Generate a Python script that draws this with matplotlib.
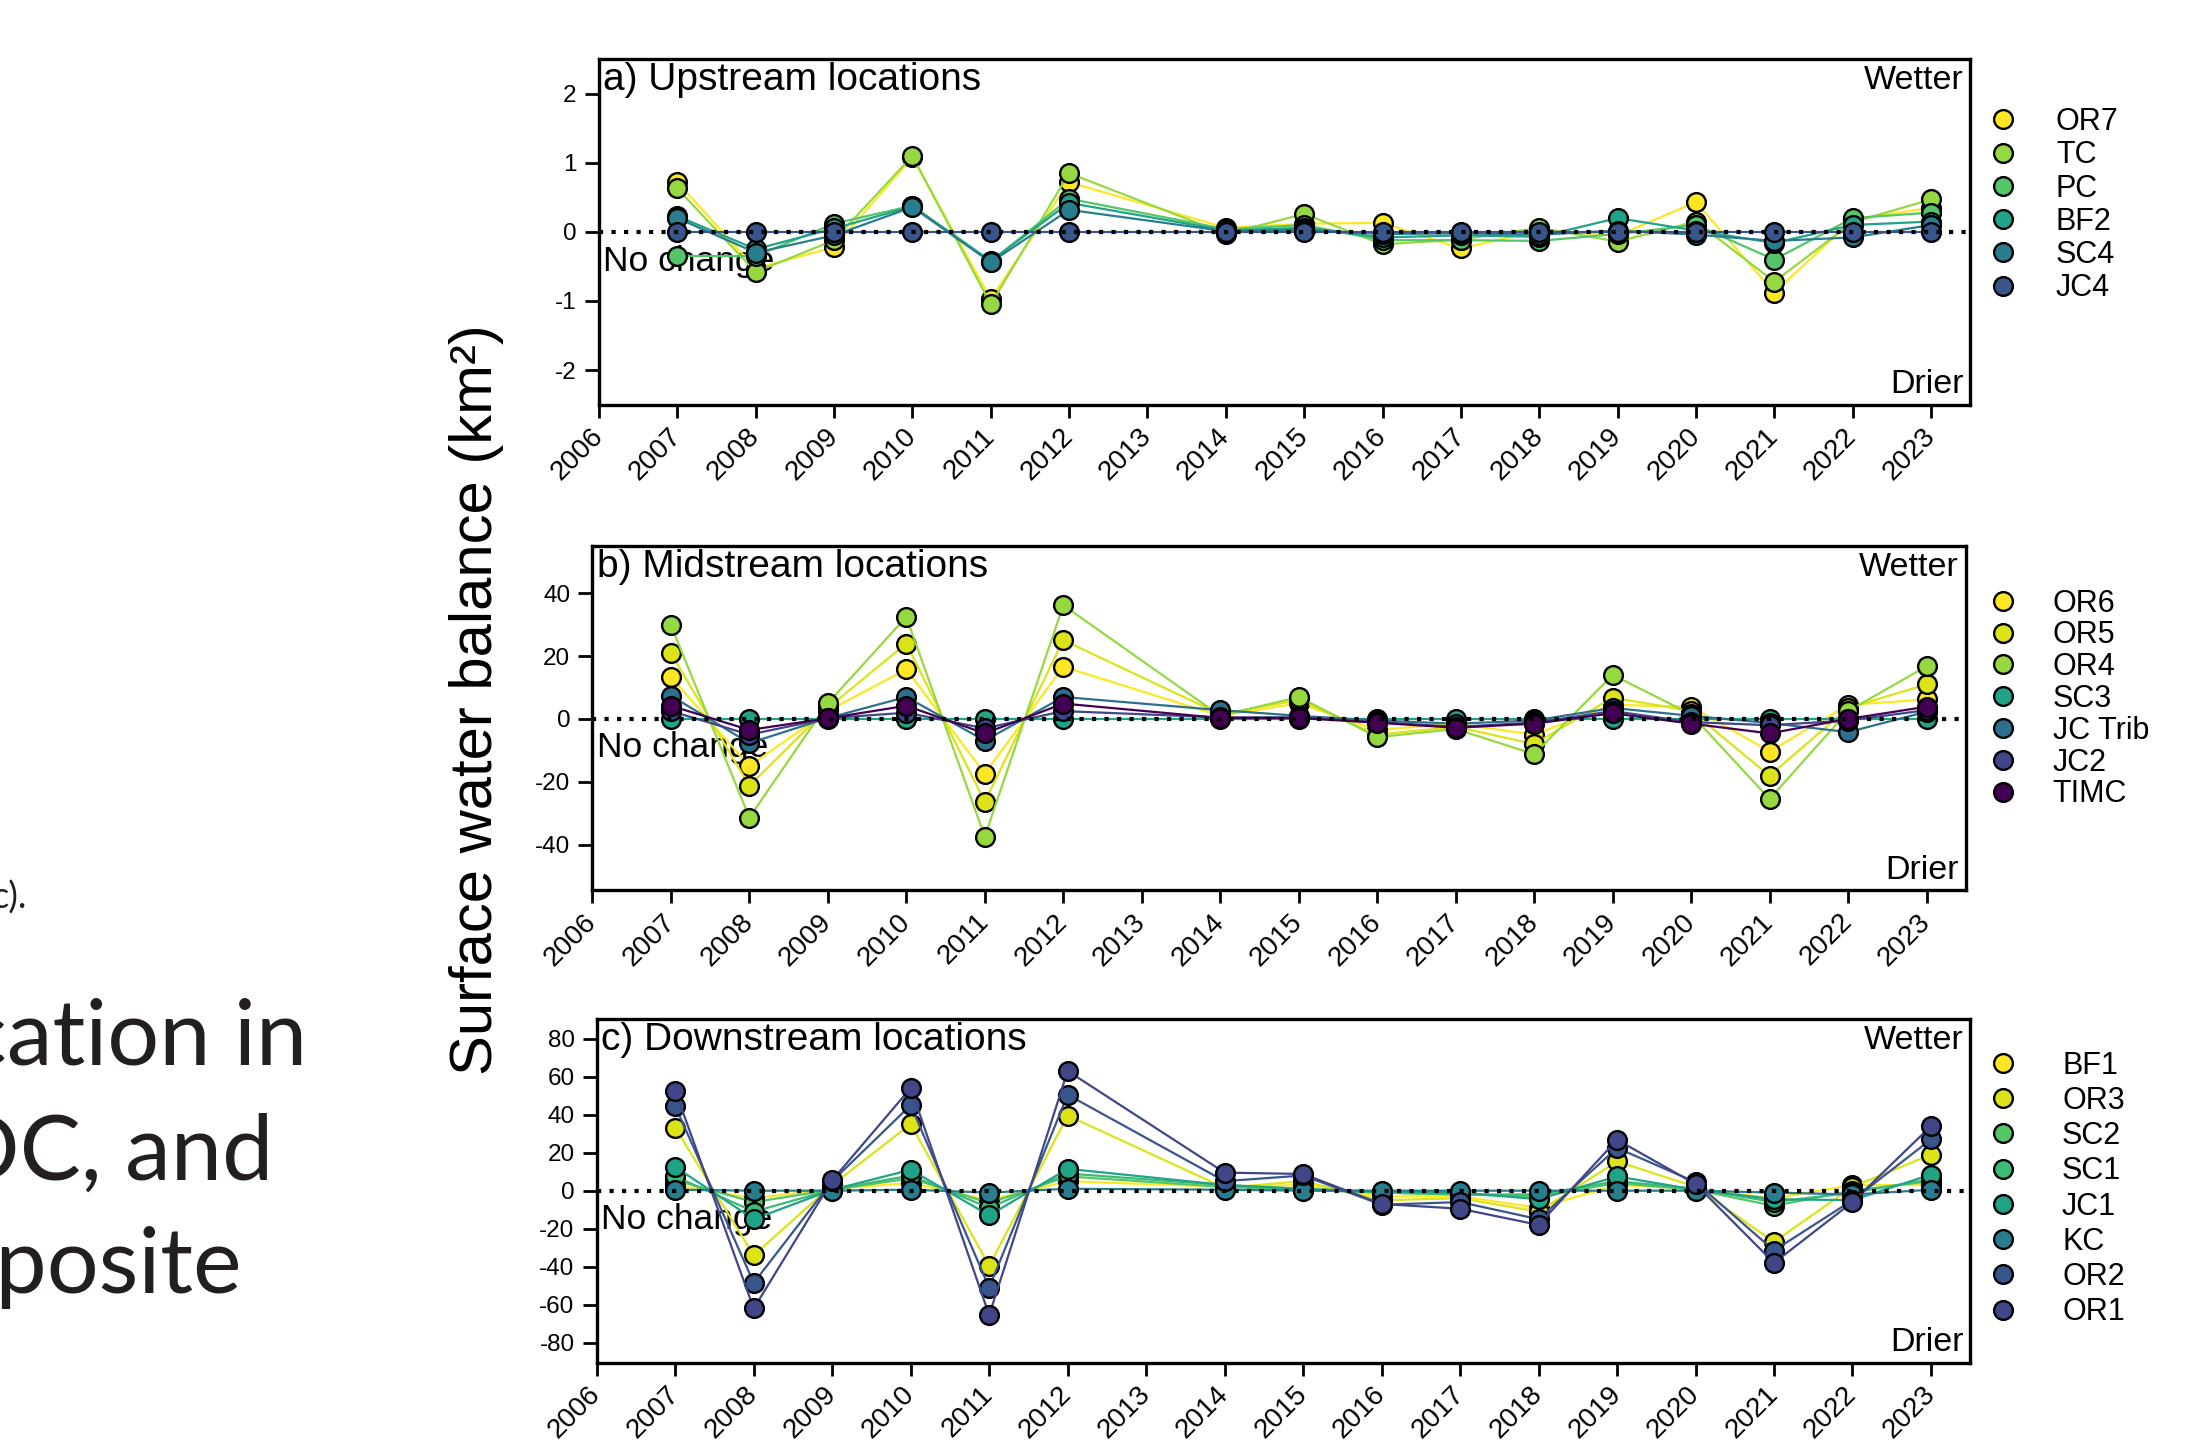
import matplotlib
matplotlib.use("Agg")
import matplotlib.pyplot as plt
from matplotlib.lines import Line2D

plt.rcParams["font.family"] = ["Liberation Sans", "DejaVu Sans"]
plt.rcParams["axes.unicode_minus"] = False

# Water years with observations (no 2013 survey)
years = [2007, 2008, 2009, 2010, 2011, 2012, 2014, 2015, 2016,
         2017, 2018, 2019, 2020, 2021, 2022, 2023]

# a) Upstream locations
up_sites = ["OR7", "TC", "PC", "BF2", "SC4", "JC4"]
up_colors = ["#FDE725", "#95D840", "#55C667", "#20A387", "#287D8E", "#39568C"]
or7 = [0.72, -0.53, -0.22, 1.08, -0.97, 0.72, 0.06, 0.12, 0.13, -0.24, 0.02, -0.05, 0.43, -0.88, 0.18, 0.35]
tc = [0.63, -0.58, -0.12, 1.10, -1.05, 0.85, -0.03, 0.26, -0.18, -0.11, 0.06, -0.14, 0.15, -0.72, 0.14, 0.47]
pc = [-0.35, -0.35, 0.12, 0.38, -0.43, 0.48, 0.04, 0.10, -0.12, -0.12, -0.13, -0.03, 0.10, -0.40, 0.20, 0.28]
bf2 = [0.23, -0.25, 0.05, 0.37, -0.42, 0.42, 0.02, 0.06, -0.08, -0.05, -0.07, 0.20, 0.02, -0.16, 0.10, 0.15]
sc4 = [0.20, -0.30, -0.05, 0.36, -0.44, 0.32, 0.01, 0.03, -0.03, -0.02, -0.04, 0.02, -0.04, -0.13, -0.08, 0.10]
jc4 = [0.0] * 16

# b) Midstream locations
mid_sites = ["OR6", "OR5", "OR4", "SC3", "JC Trib", "JC2", "TIMC"]
mid_colors = ["#FDE725", "#DCE319", "#95D840", "#20A387", "#2D708E", "#404688", "#440154"]
or6 = [13.4, -15.0, 2.5, 15.8, -17.4, 16.6, 1.0, 5.0, -3.5, -1.5, -5.0, 4.5, 3.9, -10.4, 4.5, 6.2]
or5 = [20.9, -21.3, 3.5, 24.0, -26.4, 25.1, 1.5, 6.0, -5.0, -2.5, -8.0, 6.8, 2.5, -18.1, 3.5, 11.0]
or4 = [29.9, -31.4, 5.0, 32.5, -37.5, 36.2, 1.0, 7.0, -5.8, -3.2, -11.2, 14.0, 1.5, -25.5, 2.5, 16.8]
sc3 = [0.0] * 16
jc_trib = [7.4, -7.7, 0.3, 7.0, -6.9, 7.0, 2.8, 1.0, -0.5, -1.5, -0.5, 3.5, 1.0, -1.3, -4.2, 2.3]
jc2 = [2.5, -5.0, 0.2, 2.0, -3.0, 2.5, 0.5, 0.5, -1.0, -2.5, -1.2, 2.5, -1.0, -2.0, -0.5, 2.8]
timc = [4.2, -3.5, 0.2, 4.2, -4.6, 4.9, 0.3, 0.3, -1.2, -2.8, -1.5, 1.8, -1.5, -4.6, 0.0, 3.9]

# c) Downstream locations
down_sites = ["BF1", "OR3", "SC2", "SC1", "JC1", "KC", "OR2", "OR1"]
down_colors = ["#FDE725", "#DCE319", "#55C667", "#3CBB75", "#20A387", "#287D8E", "#39568C", "#404688"]
bf1 = [3.0, -4.0, 1.0, 4.0, -5.0, 5.0, 2.0, 3.0, -3.0, -3.0, -9.0, 3.0, 1.0, -4.0, 3.0, 3.0]
or3 = [33.0, -34.0, 3.0, 35.0, -39.5, 39.5, 1.5, 5.0, -5.0, -4.0, -11.0, 15.4, 2.0, -27.0, 2.0, 19.0]
sc2 = [5.5, -6.0, 0.5, 6.5, -6.5, 7.5, 2.0, 0.5, -1.0, -2.0, -3.0, 4.0, 0.5, -8.0, 0.0, 5.0]
sc1 = [7.5, -11.0, 0.5, 8.0, -9.0, 9.0, 3.0, 0.5, -1.0, -2.0, -2.0, 5.0, 1.0, -6.0, -1.0, 6.0]
jc1 = [12.5, -15.0, 0.5, 11.0, -13.0, 11.5, 3.0, 1.0, -0.5, -1.0, -4.5, 7.5, 0.5, -4.5, -5.0, 8.5]
kc = [0.5, 0.0, 0.0, 0.5, -1.0, 1.0, 0.5, 0.0, 0.0, 0.0, 0.0, 0.0, 0.0, -1.0, -2.0, 0.5]
or2 = [44.5, -48.5, 5.0, 45.0, -51.0, 50.5, 5.0, 8.0, -7.4, -6.0, -15.0, 22.5, 4.5, -31.5, -5.0, 27.0]
or1 = [52.5, -62.0, 5.5, 54.0, -65.5, 63.0, 9.5, 8.8, -7.0, -9.5, -18.0, 26.8, 3.5, -38.0, -6.0, 34.0]

year_ticks = list(range(2006, 2024))

fig = plt.figure(figsize=(21.94, 14.45), dpi=100)


def panel(rect, title, sites, colors, series, ylim, yticks, leg_top, leg_spacing, leg_pad):
    ax = fig.add_axes(rect)
    for i, (name, col, vals) in enumerate(zip(sites, colors, series)):
        ax.plot(years, vals, color=col, lw=1.6, marker="o", ms=13.5,
                mfc=col, mec="black", mew=1.7, zorder=3 + i, label=name)
    ax.axhline(0, color="black", lw=3.0, ls=(0, (1, 2.0)), zorder=20)
    ax.set_xlim(2006, 2023.5)
    ax.set_ylim(*ylim)
    ax.set_xticks(year_ticks)
    ax.set_xticklabels([str(y) for y in year_ticks], rotation=45,
                       ha="right", va="center", rotation_mode="anchor")
    ax.set_yticks(yticks)
    ax.tick_params(axis="x", labelsize=20, length=9, width=2, pad=11)
    ax.tick_params(axis="y", labelsize=17.5, length=10, width=2, pad=6)
    for s in ax.spines.values():
        s.set_linewidth(2.4)

    ax.text(0.003, 0.91, title, transform=ax.transAxes, fontsize=28,
            ha="left", va="baseline", zorder=1)
    ax.text(0.995, 0.913, "Wetter", transform=ax.transAxes, fontsize=24.5,
            ha="right", va="baseline")
    ax.text(0.995, 0.033, "Drier", transform=ax.transAxes, fontsize=24.5,
            ha="right", va="baseline")
    ax.text(0.003, 0.388, "No change", transform=ax.transAxes, fontsize=25.5,
            ha="left", va="baseline", zorder=1)

    handles = [Line2D([], [], ls="none", marker="o", ms=13.5, mfc=c,
                      mec="black", mew=1.7) for c in colors]
    ax.legend(handles, sites, loc="upper left", bbox_to_anchor=(0.9081, leg_top),
              bbox_transform=fig.transFigure, frameon=False, fontsize=22,
              borderpad=0, borderaxespad=0, handlelength=0.7,
              handletextpad=leg_pad, labelspacing=leg_spacing)
    return ax


panel([0.273, 0.720, 0.625, 0.239], "a) Upstream locations",
      up_sites, up_colors, [or7, tc, pc, bf2, sc4, jc4],
      (-2.5, 2.5), [-2, -1, 0, 1, 2], 0.926, 0.108, 1.38)
panel([0.270, 0.384, 0.626, 0.238], "b) Midstream locations",
      mid_sites, mid_colors, [or6, or5, or4, sc3, jc_trib, jc2, timc],
      (-54.5, 55), [-40, -20, 0, 20, 40], 0.5927, 0.059, 1.28)
panel([0.272, 0.057, 0.626, 0.238], "c) Downstream locations",
      down_sites, down_colors, [bf1, or3, sc2, sc1, jc1, kc, or2, or1],
      (-90.5, 90.5), list(range(-80, 81, 20)), 0.273, 0.172, 1.58)

fig.text(0.217, 0.5156, "Surface water balance (km²)", rotation=90,
         ha="center", va="center", fontsize=43)

# slide text sitting behind the figure
slide = dict(family=["Lato", "DejaVu Sans"], color="#231f20", ha="right", va="baseline")
fig.text(0.0123, 0.371, "c).", fontsize=26, **slide)
fig.text(0.1399, 0.263, "cation in", fontsize=66, **slide)
fig.text(0.1244, 0.1834, "DC, and", fontsize=66, **slide)
fig.text(0.1103, 0.1052, "pposite", fontsize=66, **slide)

fig.savefig("out.png", dpi=100)
